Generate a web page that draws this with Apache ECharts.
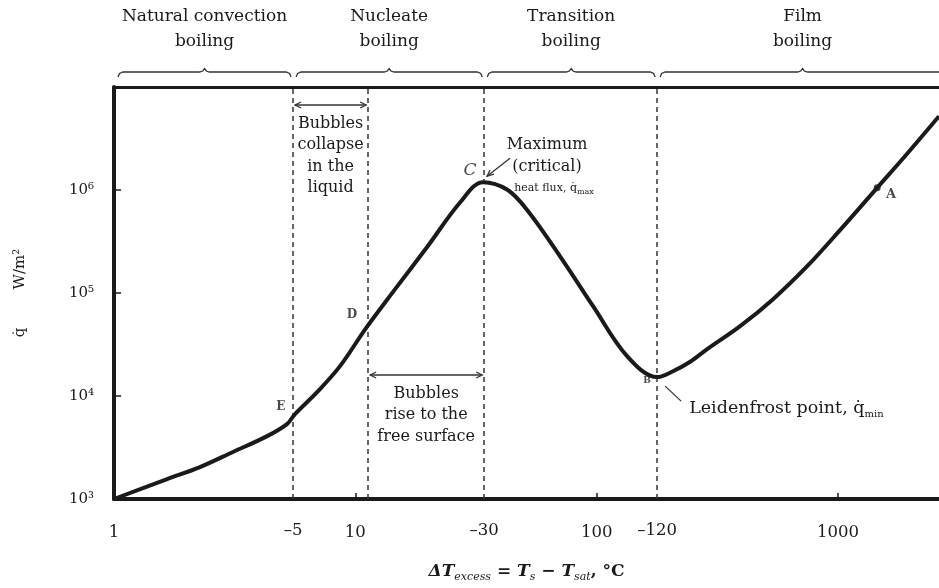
<!DOCTYPE html>
<html>
<head>
<meta charset="utf-8">
<script src="https://cdn.jsdelivr.net/npm/echarts@6/dist/echarts.min.js"></script>
<style>
  html, body { margin: 0; background: #fff; }
  #main { width: 939px; height: 588px; }
</style>
</head>
<body>
<div id="main"></div>
<script>
// boiling curve
var excessT = [1, 1.66, 2.27, 3.11, 4.31, 5.21, 5.62, 6.94, 8.64, 11.07, 14.3, 19.8, 27.2, 33.8, 42.5, 51.5, 70.5, 96.6, 133.6, 178, 207, 244, 287, 393, 538, 745, 1021, 1452, 1933, 2620];
var heatFlux = [1000, 1560, 2040, 2860, 4080, 5340, 6670, 10900, 19500, 45600, 102000, 278000, 760000, 1190000, 1010000, 640000, 227000, 74500, 24400, 15250, 17400, 21500, 28500, 47650, 87100, 182000, 410000, 1050000, 2250000, 5200000];

// named points on the curve
var pointNames = ['E', 'D', 'C', 'B', 'A'];
var pointT = [5.62, 11.07, 33.8, 178, 1452];
var pointQ = [6670, 45600, 1190000, 15250, 1050000];

// dashed boundaries and their labels under the axis
var boundaryT = [5.52, 11.3, 34.2, 178];
var boundaryLabels = ['–5', '', '–30', '–120'];

var regionNames = ['Natural convection\nboiling', 'Nucleate\nboiling', 'Transition\nboiling', 'Film\nboiling'];

var xTickValues = [1, 10, 100, 1000];
var xTickLabels = ['1', '10', '100', '1000'];
var yTickExp = [3, 4, 5, 6];
var yTickLabels = ['10³', '10⁴', '10⁵', '10⁶'];

var xMin = 1, xMax = 2620, yMin = 1000, yMax = 1e7;
var serif = 'DejaVu Serif';
var ink = '#1a1a1a';

var chart = echarts.init(document.getElementById('main'));

var letterStyle = {
  E: { offset: [-14, -7], fontSize: 12, fontWeight: 'bold' },
  D: { offset: [-14, -13], fontSize: 12, fontWeight: 'bold' },
  C: { offset: [-13, -12], fontSize: 17, fontStyle: 'italic' },
  B: { offset: [-10, 4], fontSize: 9, fontWeight: 'bold' },
  A: { offset: [14, 7], fontSize: 13, fontWeight: 'bold' }
};

var option = {
  backgroundColor: '#fff',
  animation: false,
  grid: { left: 114, right: 0, top: 87, bottom: 88 },
  xAxis: [{
    type: 'log',
    min: xMin,
    max: xMax,
    name: '{it|ΔT}{sb|excess}{n| = }{it|T}{sb|s}{n| − }{it|T}{sb|sat}{n|, °C}',
    nameLocation: 'middle',
    nameGap: 62,
    nameTextStyle: {
      rich: {
        it: { fontFamily: serif, fontStyle: 'italic', fontWeight: 'bold', fontSize: 17, lineHeight: 22, color: ink },
        n: { fontFamily: serif, fontWeight: 'bold', fontSize: 17, lineHeight: 22, color: ink },
        sb: { fontFamily: serif, fontStyle: 'italic', fontSize: 11, lineHeight: 10, verticalAlign: 'bottom', color: ink }
      }
    },
    axisLine: { lineStyle: { color: ink, width: 4 } },
    axisTick: { inside: true, length: 6, lineStyle: { color: ink, width: 1.5 } },
    splitLine: { show: false },
    minorTick: { show: false },
    axisLabel: {
      margin: 25,
      showMaxLabel: false,
      fontFamily: serif,
      fontSize: 16.5,
      color: ink,
      formatter: function (v) {
        for (var i = 0; i < xTickValues.length; i++) {
          if (Math.abs(v - xTickValues[i]) < xTickValues[i] * 1e-6) return xTickLabels[i];
        }
        return '';
      }
    }
  }, {
    type: 'log',
    position: 'top',
    min: xMin,
    max: xMax,
    axisLine: { lineStyle: { color: ink, width: 3 } },
    axisTick: { show: false },
    axisLabel: { show: false },
    splitLine: { show: false }
  }],
  yAxis: {
    type: 'log',
    min: yMin,
    max: yMax,
    name: 'q̇        W/m²',
    nameLocation: 'middle',
    nameRotate: 90,
    nameGap: 86,
    nameTextStyle: { fontFamily: serif, fontSize: 15, color: ink },
    axisLine: { lineStyle: { color: ink, width: 4 } },
    axisTick: { inside: true, length: 7, lineStyle: { color: ink, width: 1.5 } },
    splitLine: { show: false },
    axisLabel: {
      margin: 20,
      fontFamily: serif,
      fontSize: 15,
      color: ink,
      formatter: function (v) {
        var e = Math.round(Math.log10(v));
        var i = yTickExp.indexOf(e);
        return i >= 0 ? yTickLabels[i] : '';
      }
    }
  },
  series: [{
    type: 'line',
    data: excessT.map(function (t, i) { return [t, heatFlux[i]]; }),
    smooth: 0.35,
    showSymbol: false,
    lineStyle: { color: ink, width: 4 },
    z: 5,
    markLine: {
      silent: true,
      symbol: 'none',
      lineStyle: { color: '#333', type: [5, 4], width: 1.5 },
      label: {
        position: 'start',
        distance: 23,
        fontFamily: serif,
        fontSize: 16.5,
        color: ink
      },
      data: boundaryT.map(function (t, i) {
        return { xAxis: t, label: { formatter: boundaryLabels[i] || ' ' } };
      })
    }
  }, {
    type: 'scatter',
    z: 6,
    data: pointNames.map(function (n, i) {
      var s = letterStyle[n];
      return {
        value: [pointT[i], pointQ[i]],
        symbolSize: n === 'A' ? 7 : 0,
        label: {
          show: true,
          formatter: n,
          position: 'inside',
          offset: s.offset,
          fontFamily: serif,
          fontSize: s.fontSize,
          fontWeight: s.fontWeight || 'normal',
          fontStyle: s.fontStyle || 'normal',
          color: ink
        }
      };
    }),
    itemStyle: { color: ink }
  }]
};

chart.setOption(option);

// annotations placed from data coordinates
function px(x, y) { return chart.convertToPixel({ gridIndex: 0 }, [x, y]); }
function xPix(x) { return px(x, yMin)[0]; }

var g = [];
var strokeStyle = { fill: null, stroke: '#333', lineWidth: 1.3 };
function txt(x, y, text, extra) {
  g.push({ type: 'text', silent: true, style: Object.assign({
    x: x, y: y, text: text, fontSize: 16, lineHeight: 24, fontFamily: serif, fill: ink,
    textAlign: 'center', textVerticalAlign: 'top'
  }, extra || {}) });
}
function poly(points) {
  g.push({ type: 'polyline', silent: true, shape: { points: points }, style: strokeStyle });
}

// braces and region names
var edges = [xMin, boundaryT[0], boundaryT[2], boundaryT[3], xMax];
var by = 72;
regionNames.forEach(function (name, i) {
  var x0 = xPix(edges[i]) + (i === 0 ? 4 : 3);
  var x1 = i === regionNames.length - 1 ? 945 : xPix(edges[i + 1]) - 2;
  var xm = (x0 + x1) / 2;
  poly([[x0, by + 5], [x0 + 1.5, by + 1.5], [x0 + 5, by], [xm - 5, by], [xm - 1.8, by - 1], [xm, by - 3.5],
        [xm + 1.8, by - 1], [xm + 5, by], [x1 - 5, by], [x1 - 1.5, by + 1.5], [x1, by + 5]]);
  txt(xm, 4, name, { lineHeight: 25, fontSize: 17 });
});

// double arrows between dashed lines with notes
function doubleArrow(xa, xb, y) {
  poly([[xa + 2, y], [xb - 2, y]]);
  poly([[xa + 8, y - 3], [xa + 2, y], [xa + 8, y + 3]]);
  poly([[xb - 8, y - 3], [xb - 2, y], [xb - 8, y + 3]]);
}
var b0 = xPix(boundaryT[0]), b1 = xPix(boundaryT[1]), b2 = xPix(boundaryT[2]);
doubleArrow(b0, b1, 105);
txt((b0 + b1) / 2, 113, 'Bubbles\ncollapse\nin the\nliquid', { lineHeight: 21.5 });
doubleArrow(b1, b2, 375);
txt((b1 + b2) / 2, 383, 'Bubbles\nrise to the\nfree surface', { lineHeight: 21.5 });

// critical heat flux
var pc = px(pointT[2], pointQ[2]);
txt(pc[0] + 64, pc[1] - 48, 'Maximum\n(critical)', { lineHeight: 21.5 });
g.push({ type: 'text', silent: true, style: {
  x: pc[0] + 71, y: pc[1] + 6, text: '{a|heat flux, q̇}{s|max}', textAlign: 'center', textVerticalAlign: 'middle',
  rich: {
    a: { fontFamily: serif, fontSize: 11, lineHeight: 16, fill: ink },
    s: { fontFamily: serif, fontSize: 8, lineHeight: 8, verticalAlign: 'bottom', fill: ink }
  }
} });
poly([[pc[0] + 4, pc[1] - 6], [pc[0] + 27, pc[1] - 24]]);
poly([[pc[0] + 7, pc[1] - 12], [pc[0] + 4, pc[1] - 6], [pc[0] + 11, pc[1] - 8]]);

// Leidenfrost point
var pb = px(pointT[3], pointQ[3]);
poly([[pb[0] + 8, pb[1] + 9], [pb[0] + 24, pb[1] + 24]]);
g.push({ type: 'text', silent: true, style: {
  x: pb[0] + 32, y: pb[1] + 31, text: '{a|Leidenfrost point, q̇}{s|min}', textAlign: 'left', textVerticalAlign: 'middle',
  rich: {
    a: { fontFamily: serif, fontSize: 17.5, lineHeight: 22, fill: ink },
    s: { fontFamily: serif, fontSize: 10, lineHeight: 10, verticalAlign: 'bottom', fill: ink }
  }
} });

chart.setOption({ graphic: g });
</script>
</body>
</html>
